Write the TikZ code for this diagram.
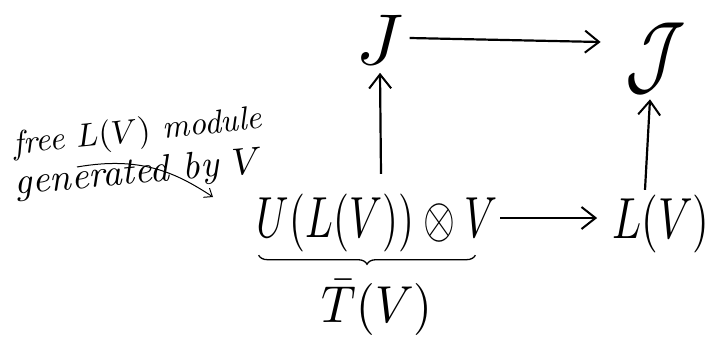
\documentclass[tikz,border=0pt]{standalone}
\usepackage{graphicx}
\usetikzlibrary{arrows.meta,decorations.pathreplacing}
\begin{document}
\begin{tikzpicture}[x=1pt,y=-1pt,
  lbl/.style={inner sep=0pt},
  arr/.style={line width=2.2pt, -{Straight Barb[length=14pt,width=22pt,line width=2pt]}},
  note/.style={inner sep=0pt},
  notearr/.style={line width=1pt, -{Straight Barb[length=7pt,width=11pt]}},
  bracestyle/.style={line width=1.3pt, decorate, decoration={brace, mirror, amplitude=9pt}}]
\useasboundingbox (0,0) rectangle (715,338);

\node[lbl] (J) at (380,40) {\scalebox{7.2}{$J$}};
\node[lbl] (cJ) at (656,58) {\scalebox{7}[9]{$\mathcal{J}$}};
\node[lbl] (U) at (377,223) {\scalebox{4.1}[5.8]{$U(L(V))\otimes V$}};
\node[lbl] (L) at (661,224) {\scalebox{4.3}[5.8]{$L(V)$}};
\node[lbl] (T) at (377,308) {\scalebox{4.8}[5.2]{$\bar{T}(V)$}};

\node[note, rotate=6] (n1) at (138,133) {\scalebox{3.3}{\itshape free $L(V)$ module}};
\node[note, rotate=5] (n2) at (139,174) {\scalebox{3.8}{\itshape generated by $V$}};

\draw[arr] ([xshift=6pt,yshift=2pt]J.east) -- ([xshift=-25pt,yshift=16pt]cJ.west);
\draw[arr] ([xshift=4pt,yshift=20pt]U.north) -- ([yshift=-8pt]J.south);
\draw[arr] ([xshift=-16pt,yshift=5pt]L.north) -- ([xshift=-6pt,yshift=-6pt]cJ.south);
\draw[arr] ([xshift=3pt,yshift=5pt]U.east) -- ([xshift=-15pt,yshift=6pt]L.west);

\draw[bracestyle] ([xshift=2pt,yshift=-3pt]U.south west) -- ([xshift=-22pt,yshift=-3pt]U.south east);

\coordinate (s) at (77,167);
\coordinate (tip) at (213,197);
\draw[notearr] (s) .. controls (140,156) and (175,172) .. (tip);
\end{tikzpicture}
\end{document}
